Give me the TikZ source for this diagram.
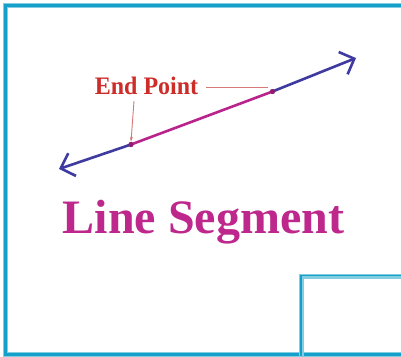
\documentclass[tikz,border=0pt]{standalone}
\usepackage{fontspec}
\setmainfont{Liberation Serif}
\usetikzlibrary{arrows.meta}
\definecolor{frame}{RGB}{20,160,200}
\definecolor{framelight}{RGB}{130,205,225}
\definecolor{rayblue}{RGB}{62,58,160}
\definecolor{segmag}{RGB}{185,35,140}
\definecolor{ptred}{RGB}{205,45,40}
\definecolor{ptrline}{RGB}{215,120,120}
\definecolor{titlemag}{RGB}{190,40,140}
\tikzset{
  ray/.style={rayblue,line width=2.6pt,-{Straight Barb[length=12pt,width=24pt,line width=2.6pt]}},
  seg/.style={segmag,line width=2.6pt},
  endpt/.style={circle,fill=segmag!80!black,inner sep=0pt,minimum size=5pt},
  pointer/.style={ptrline,line width=0.9pt},
}
\begin{document}
\begin{tikzpicture}[x=1pt,y=-1pt]
\useasboundingbox (0,0) rectangle (401,356);
\fill[white] (0,0) rectangle (401,356);
% outer frame
\draw[framelight,line width=4.5pt] (401,5.5) -- (5.5,5.5) -- (5.5,354.5) -- (401,354.5);
\draw[frame,line width=3pt] (401,5.5) -- (5.5,5.5) -- (5.5,354.5) -- (401,354.5);
% small box
\draw[framelight,line width=5pt] (401,276) -- (301.5,276) -- (301.5,356);
\draw[frame,line width=1.4pt] (401,275.5) -- (301,275.5) -- (301,356);
% line
\coordinate (A) at (59,169);
\coordinate (B) at (356,58);
\node[endpt] (P1) at (131,144.5) {};
\node[endpt] (P2) at (272.5,91.5) {};
\draw[ray] (P1.center) -- (A);
\draw[ray] (P2.center) -- (B);
\draw[seg] (P1.center) -- (P2.center);
\node[endpt] at (P1) {};
\node[endpt] at (P2) {};
% label
\node[anchor=base,text=ptred,font=\bfseries\fontsize{24}{24}\selectfont,inner sep=0pt] (EP) at (146.5,94) {\scalebox{1}[1.05]{End Point}};
\coordinate (H1) at (206,87.5);
\coordinate (H2) at (268,87.5);
\coordinate (V1) at (134,101);
\draw[pointer] (H1) -- (H2);
\draw[pointer,-{Stealth[length=5pt,width=3pt]}] (V1) -- (P1.north);
% title
\node[anchor=base,text=titlemag,font=\bfseries\fontsize{48}{48}\selectfont,inner sep=0pt] (T) at (203.5,233) {Line Segment};
\end{tikzpicture}
\end{document}
